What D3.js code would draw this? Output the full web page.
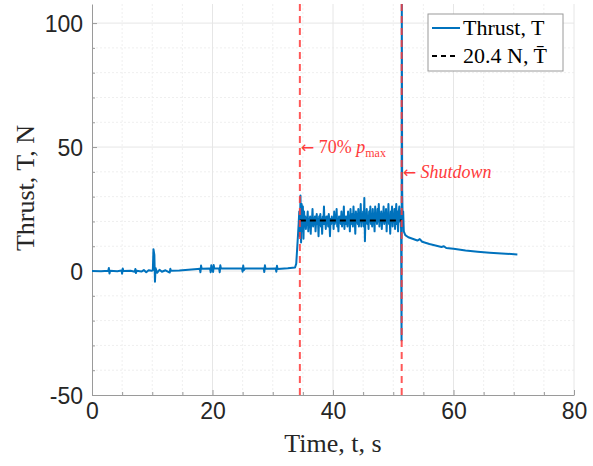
<!DOCTYPE html>
<html>
<head>
<meta charset="utf-8">
<script src="https://cdn.jsdelivr.net/npm/d3@7"></script>
<style>
  body { margin: 0; background: #fff; }
  svg { display: block; }
</style>
</head>
<body>
<svg id="chart" width="593" height="466"></svg>
<script>
// thrust trace, [time s, thrust N]
const baseline = [
  [0, 0], [1.5, -0.1], [2.7, 0.1], [2.8, 1.2], [2.9, -1], [3.0, 0.1], [4.2, -0.1],
  [4.9, 0.2], [5.0, -1.1], [5.1, 1], [5.2, 0], [6.4, 0.1], [7.1, -0.3], [7.2, 0.8],
  [7.3, -0.8], [7.4, 0.1], [8.2, -0.2], [8.6, 0.4], [9.0, -0.5], [9.4, 0.3], [9.9, 0.1],
  [10.1, 0.4], [10.2, 8.8], [10.35, 6.5], [10.45, -4.3], [10.55, 1.2], [10.8, -0.7],
  [11.2, 0.5], [11.6, -0.3], [12.2, 0.3], [12.9, -0.6], [13.0, 0.9], [13.1, 0.1],
  [14.5, 0.2], [16, 0.5], [17.5, 0.8], [17.9, 0.9], [18.0, -0.5], [18.1, 2.2],
  [18.2, 0.9], [19.6, 1], [19.7, -0.5], [19.8, 2.3], [19.9, 1], [20.1, -0.4],
  [20.2, 2.4], [20.3, 1], [21.1, 1], [21.2, -0.5], [21.3, 2.3], [21.4, 1], [24.9, 1],
  [25.0, -0.3], [25.1, 2.2], [25.2, 0.4], [25.4, 1], [28.5, 1], [28.6, -0.4],
  [28.7, 2.3], [28.8, 0.9], [30.5, 1], [30.6, -0.3], [30.7, 2.1], [30.8, 0.8],
  [32.5, 1.1], [33.7, 1.4]
];
const ignition = [
  [33.9, 3], [34.1, 11], [34.3, 19], [34.4, 24], [34.5, 14], [34.6, 30.5], [34.7, 11.5],
  [34.8, 27], [34.9, 16], [35.0, 26], [35.1, 13], [35.2, 24]
];
const steady = [
  [35.3, 18], [35.4, 22], [35.5, 17], [35.6, 21], [35.7, 20], [35.8, 24], [35.9, 16],
  [36.0, 21], [36.1, 19], [36.2, 22], [36.3, 15], [36.4, 21], [36.5, 20], [36.6, 25],
  [36.7, 18], [36.8, 21], [36.9, 19], [37.0, 22], [37.1, 16], [37.2, 20], [37.3, 23],
  [37.4, 19], [37.5, 21], [37.6, 14], [37.7, 22], [37.8, 20], [37.9, 23], [38.0, 18],
  [38.1, 21], [38.2, 15], [38.3, 22], [38.4, 19], [38.5, 26], [38.6, 19], [38.7, 21],
  [38.8, 17], [38.9, 22], [39.0, 20], [39.1, 22], [39.2, 18], [39.3, 23], [39.4, 20],
  [39.5, 14], [39.6, 21], [39.7, 19], [39.8, 22], [39.9, 20], [40.0, 21], [40.1, 17],
  [40.2, 24], [40.3, 19], [40.4, 21], [40.5, 20], [40.6, 25], [40.7, 18], [40.8, 21],
  [40.9, 16], [41.0, 22], [41.1, 20], [41.2, 22], [41.3, 19], [41.4, 24], [41.5, 18],
  [41.6, 21], [41.7, 20], [41.8, 26], [41.9, 17], [42.0, 22], [42.1, 19], [42.2, 22],
  [42.3, 21], [42.4, 18], [42.5, 24], [42.6, 20], [42.7, 22], [42.8, 16], [42.9, 25],
  [43.0, 19], [43.1, 21], [43.2, 23], [43.3, 18], [43.4, 26], [43.5, 20], [43.6, 22],
  [43.7, 15], [43.8, 24], [43.9, 20], [44.0, 23], [44.1, 19], [44.2, 25], [44.3, 18],
  [44.4, 22], [44.5, 20], [44.6, 27], [44.7, 18], [44.8, 23], [44.9, 20], [45.0, 24],
  [45.1, 18], [45.2, 29.5], [45.3, 12], [45.4, 23], [45.5, 20], [45.6, 25], [45.7, 19],
  [45.8, 22], [45.9, 17], [46.0, 24], [46.1, 20], [46.2, 26], [46.3, 19], [46.4, 23],
  [46.5, 18], [46.6, 25], [46.7, 20], [46.8, 22], [46.9, 16], [47.0, 26], [47.1, 20],
  [47.2, 23], [47.3, 19], [47.4, 25], [47.5, 20], [47.6, 27], [47.7, 18], [47.8, 22],
  [47.9, 21], [48.0, 24], [48.1, 17], [48.2, 23], [48.3, 20], [48.4, 26], [48.5, 19],
  [48.6, 22], [48.7, 21], [48.8, 25], [48.9, 16], [49.0, 23], [49.1, 20], [49.2, 27],
  [49.3, 19], [49.4, 22], [49.5, 15], [49.6, 24], [49.7, 21], [49.8, 26], [49.9, 18],
  [50.0, 23], [50.1, 20], [50.2, 25], [50.3, 17], [50.4, 22], [50.5, 27], [50.6, 19],
  [50.7, 24], [50.8, 16], [50.9, 23], [51.0, 26], [51.1, 20], [51.2, 24], [51.3, 17]
];
const tailoff = [
  [51.38, -28], [51.42, 110], [51.48, 33], [51.55, 22], [51.65, 24], [51.75, 16],
  [52.0, 14.5], [52.5, 13.6], [53.2, 13], [54.0, 12.3], [54.4, 12.9], [54.8, 11.8],
  [56.0, 10.9], [57.0, 10.3], [58.0, 9.7], [58.4, 10], [58.8, 9.3], [60.0, 9],
  [62.0, 8.3], [64.0, 7.8], [66.0, 7.4], [68.0, 7.1], [70.6, 6.7]
];
const thrust = baseline.concat(ignition, steady, tailoff);

const meanThrust = 20.4;
const burnStart = 34.5;
const burnEnd = 51.4;
const xTicks = [0, 20, 40, 60, 80];
const yTicks = [-50, 0, 50, 100];
const xMinor = [5, 10, 15, 25, 30, 35, 45, 50, 55, 65, 70, 75];
const yMinor = [-40, -30, -20, -10, 10, 20, 30, 40, 60, 70, 80, 90];
const legendLabels = ["Thrust, T", "20.4 N, T\u0304"];

const svg = d3.select("#chart");
const mLeft = 92, mRight = 574, mTop = 4, mBottom = 395;

const x = d3.scaleLinear().domain([0, 80]).range([mLeft, mRight]);
const y = d3.scaleLinear().domain([-50, 107.7]).range([mBottom, mTop]);

svg.append("defs").append("clipPath").attr("id", "clip")
  .append("rect")
  .attr("x", mLeft).attr("y", mTop)
  .attr("width", mRight - mLeft).attr("height", mBottom - mTop);

// grid
const grid = svg.append("g");
grid.selectAll(".gxm").data(xMinor).enter().append("line")
  .attr("x1", d => x(d)).attr("x2", d => x(d))
  .attr("y1", mTop).attr("y2", mBottom)
  .attr("stroke", "#efefef").attr("stroke-dasharray", "2,2");
grid.selectAll(".gym").data(yMinor).enter().append("line")
  .attr("x1", mLeft).attr("x2", mRight)
  .attr("y1", d => y(d)).attr("y2", d => y(d))
  .attr("stroke", "#efefef").attr("stroke-dasharray", "2,2");
grid.selectAll(".gx").data(xTicks.slice(1)).enter().append("line")
  .attr("x1", d => x(d)).attr("x2", d => x(d))
  .attr("y1", mTop).attr("y2", mBottom)
  .attr("stroke", "#e6e6e6");
grid.selectAll(".gy").data(yTicks.slice(1)).enter().append("line")
  .attr("x1", mLeft).attr("x2", mRight)
  .attr("y1", d => y(d)).attr("y2", d => y(d))
  .attr("stroke", "#e6e6e6");

// axes
const fmt = d => String(d);
const xAxis = svg.append("g")
  .attr("transform", `translate(0,${mBottom})`)
  .call(d3.axisBottom(x).tickValues(xTicks).tickFormat(fmt)
    .tickSizeInner(-5).tickSizeOuter(0).tickPadding(8));
const yAxis = svg.append("g")
  .attr("transform", `translate(${mLeft},0)`)
  .call(d3.axisLeft(y).tickValues(yTicks).tickFormat(fmt)
    .tickSizeInner(-5).tickSizeOuter(0).tickPadding(9));

svg.append("g").attr("transform", `translate(0,${mBottom})`)
  .call(d3.axisBottom(x).tickValues(xMinor).tickSize(-3).tickFormat(""))
  .call(g => g.select(".domain").remove());
svg.append("g").attr("transform", `translate(${mLeft},0)`)
  .call(d3.axisLeft(y).tickValues(yMinor).tickSize(-3).tickFormat(""))
  .call(g => g.select(".domain").remove());

svg.selectAll(".domain, .tick line").attr("stroke", "#9a9a9a");
[xAxis, yAxis].forEach(g => g.selectAll("text")
  .attr("font-family", "Liberation Sans, Arial, sans-serif")
  .attr("font-size", 23)
  .attr("fill", "#262626"));
yAxis.selectAll("text").attr("dy", "0.36em");

// axis labels
svg.append("text")
  .attr("x", (mLeft + mRight) / 2).attr("y", 452)
  .attr("text-anchor", "middle")
  .attr("font-family", "Liberation Serif, serif")
  .attr("font-size", 26).attr("fill", "#262626")
  .text("Time, t, s");
svg.append("text")
  .attr("transform", "translate(34,188) rotate(-90)")
  .attr("text-anchor", "middle")
  .attr("font-family", "Liberation Serif, serif")
  .attr("font-size", 26).attr("fill", "#262626")
  .text("Thrust, T, N");

const plot = svg.append("g").attr("clip-path", "url(#clip)");

// thrust trace
const line = d3.line().x(d => x(d[0])).y(d => y(d[1]));
plot.append("path")
  .datum(thrust)
  .attr("d", line)
  .attr("fill", "none")
  .attr("stroke", "#0072bd")
  .attr("stroke-width", 2)
  .attr("stroke-linejoin", "round");

// average thrust
plot.append("line")
  .attr("x1", x(burnStart)).attr("x2", x(burnEnd))
  .attr("y1", y(meanThrust)).attr("y2", y(meanThrust))
  .attr("stroke", "#000").attr("stroke-width", 2)
  .attr("stroke-dasharray", "6,4");

// event markers
plot.selectAll(".event").data([burnStart, burnEnd]).enter().append("line")
  .attr("x1", d => x(d)).attr("x2", d => x(d))
  .attr("y1", mTop).attr("y2", mBottom)
  .attr("stroke", "#ff3b3b").attr("stroke-opacity", 0.85)
  .attr("stroke-width", 2)
  .attr("stroke-dasharray", "7,5");

const red = "#ff3b3b";
const a1 = svg.append("text")
  .attr("x", x(burnStart) + 1).attr("y", y(50) + 6)
  .attr("font-family", "Liberation Serif, serif")
  .attr("font-size", 18).attr("fill", red);
a1.append("tspan").attr("font-family", "DejaVu Sans").attr("font-size", 16).text("\u2190");
a1.append("tspan").text(" 70% ");
a1.append("tspan").attr("font-style", "italic").text("p");
a1.append("tspan").attr("font-size", 12).attr("dy", 4).text("max");

const a2 = svg.append("text")
  .attr("x", x(burnEnd) + 1).attr("y", y(40) + 6)
  .attr("font-family", "Liberation Serif, serif")
  .attr("font-size", 18).attr("fill", red);
a2.append("tspan").attr("font-family", "DejaVu Sans").attr("font-size", 16).text("\u2190");
a2.append("tspan").text(" ");
a2.append("tspan").attr("font-style", "italic").text("Shutdown");

// legend
const lg = svg.append("g").attr("transform", "translate(428,14)");
lg.append("rect")
  .attr("width", 135).attr("height", 57)
  .attr("fill", "#fff").attr("stroke", "#9a9a9a");
lg.append("line")
  .attr("x1", 4).attr("x2", 32).attr("y1", 14).attr("y2", 14)
  .attr("stroke", "#0072bd").attr("stroke-width", 2);
lg.append("line")
  .attr("x1", 4).attr("x2", 30).attr("y1", 42).attr("y2", 42)
  .attr("stroke", "#000").attr("stroke-width", 2).attr("stroke-dasharray", "5,4");
lg.selectAll(".lt").data(legendLabels).enter().append("text")
  .attr("x", 35).attr("y", (d, i) => 21 + i * 28)
  .attr("font-family", "Liberation Serif, serif")
  .attr("font-size", 22).attr("fill", "#000")
  .text(d => d);
</script>
</body>
</html>
